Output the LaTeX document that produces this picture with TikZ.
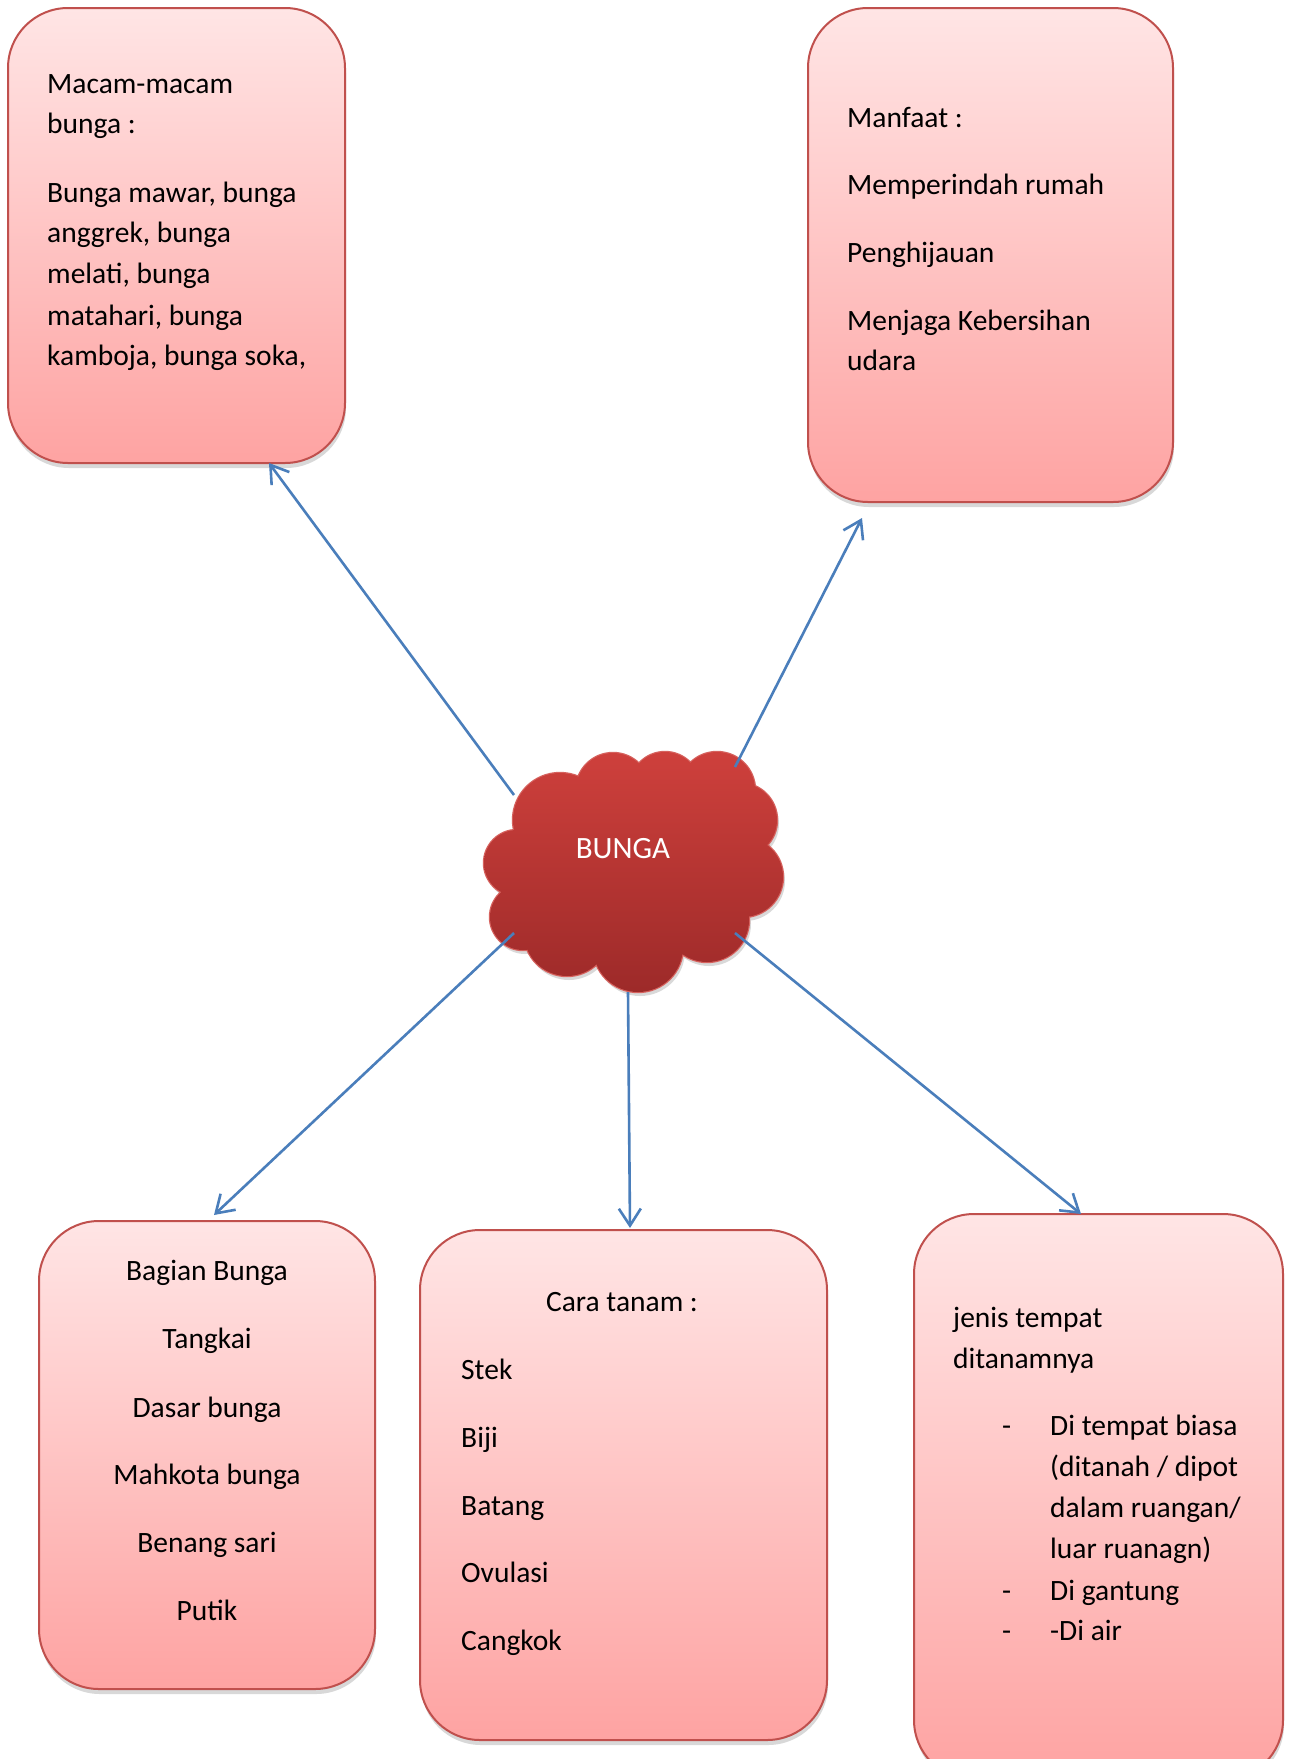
\documentclass[tikz,border=0pt]{standalone}
\usepackage{fontspec}
\setmainfont{Carlito}
\usetikzlibrary{arrows.meta,shadows}
\definecolor{boxtop}{RGB}{255,229,229}
\definecolor{boxbot}{RGB}{254,163,162}
\definecolor{boxline}{RGB}{192,80,77}
\definecolor{cloudtop}{RGB}{206,64,60}
\definecolor{cloudbot}{RGB}{157,42,41}
\definecolor{cloudline}{RGB}{214,98,94}
\definecolor{arrowblue}{RGB}{74,126,187}
\begin{document}
\begin{tikzpicture}[x=1pt,y=-1pt,
  box/.style={draw=boxline, line width=2pt, rounded corners=60pt,
    top color=boxtop, bottom color=boxbot, inner sep=0pt, outer sep=0pt,
    drop shadow={opacity=0.25, shadow xshift=1pt, shadow yshift=-5pt, fill=black!60}},
  txt/.style={font=\fontsize{29.5pt}{34pt}\selectfont, inner sep=0pt, anchor=base west},
  ctxt/.style={txt, anchor=base},
  conn/.style={draw=arrowblue, line width=2.6pt, -{Straight Barb[length=17pt,width=22pt]}}]
\useasboundingbox (0,0) rectangle (1290,1759);
\clip (0,0) rectangle (1290,1759);
\fill[white] (0,0) rectangle (1290,1759);

% boxes
\node[box, minimum width=337pt, minimum height=455pt] (tl) at (176.5,235.5) {};
\node[box, minimum width=365pt, minimum height=494pt] (tr) at (990.5,255) {};
\node[box, minimum width=336pt, minimum height=468pt] (bl) at (207,1455) {};
\node[box, minimum width=407pt, minimum height=510pt] (bm) at (623.5,1485) {};
\node[box, minimum width=369pt, minimum height=566pt] (br) at (1098.5,1497) {};

% cloud
\fill[black, opacity=0.15]
  \foreach \x/\y/\r in {560/820/47,613/790/37,665/787/35,717/790/38,740/820/37,743/877/40,707/920/42,638/947/45,567/933/43,523/917/33,517/863/33,600/870/75,690/860/70}
  {(\x+2,\y+4) circle (\r pt)};
\draw[cloudline, line width=2.4pt]
  \foreach \x/\y/\r in {560/820/47,613/790/37,665/787/35,717/790/38,740/820/37,743/877/40,707/920/42,638/947/45,567/933/43,523/917/33,517/863/33}
  {(\x,\y) circle (\r pt)};
\shade[top color=cloudtop, bottom color=cloudbot]
  \foreach \x/\y/\r in {560/820/47,613/790/37,665/787/35,717/790/38,740/820/37,743/877/40,707/920/42,638/947/45,567/933/43,523/917/33,517/863/33,600/870/75,690/860/70}
  {(\x,\y) circle (\r pt)};
\node[font=\fontsize{31pt}{36pt}\selectfont, text=white, inner sep=0pt] (cloud) at (623,849) {BUNGA};

% connectors
\draw[conn] ([xshift=-109pt,yshift=54pt]cloud.center) -- ([xshift=92.5pt]tl.south);
\draw[conn] ([xshift=112pt,yshift=82pt]cloud.center) -- ([xshift=-128.5pt,yshift=-16pt]tr.south);
\draw[conn] ([xshift=-109pt,yshift=-84pt]cloud.center) -- ([xshift=7pt,yshift=6pt]bl.north);
\draw[conn] ([xshift=5pt,yshift=-143pt]cloud.center) -- ([xshift=6.5pt,yshift=2pt]bm.north);
\draw[conn] ([xshift=112pt,yshift=-84pt]cloud.center) -- ([xshift=-17.5pt]br.north);

% texts top-left
\node[txt] (tl1) at (47,93) {Macam-macam};
\node[txt] (tl2) at (47,133) {bunga :};
\node[txt] (tl3) at (47,202) {Bunga mawar, bunga};
\node[txt] (tl4) at (47,242) {anggrek, bunga};
\node[txt] (tl5) at (47,283) {melati, bunga};
\node[txt] (tl6) at (47,325) {matahari, bunga};
\node[txt] (tl7) at (47,365) {kamboja, bunga soka,};

% texts top-right
\node[txt] (tr1) at (847,127) {Manfaat :};
\node[txt] (tr2) at (847,194) {Memperindah rumah};
\node[txt] (tr3) at (847,262) {Penghijauan};
\node[txt] (tr4) at (847,330) {Menjaga Kebersihan};
\node[txt] (tr5) at (847,370) {udara};

% texts bottom-left
\node[ctxt] (bl1) at (207,1280) {Bagian Bunga};
\node[ctxt] (bl2) at (207,1348) {Tangkai};
\node[ctxt] (bl3) at (207,1417) {Dasar bunga};
\node[ctxt] (bl4) at (207,1484) {Mahkota bunga};
\node[ctxt] (bl5) at (207,1552) {Benang sari};
\node[ctxt] (bl6) at (207,1620) {Putik};

% texts bottom-middle
\node[ctxt] (bm1) at (622,1311) {Cara tanam :};
\node[txt] (bm2) at (461,1379) {Stek};
\node[txt] (bm3) at (461,1447) {Biji};
\node[txt] (bm4) at (461,1515) {Batang};
\node[txt] (bm5) at (461,1582) {Ovulasi};
\node[txt] (bm6) at (461,1650) {Cangkok};

% texts bottom-right
\node[txt] (br1) at (953,1327) {jenis tempat};
\node[txt] (br2) at (953,1368) {ditanamnya};
\node[txt] (brd1) at (1002,1435) {-};
\node[txt] (br3) at (1050,1435) {Di tempat biasa};
\node[txt] (br4) at (1050,1476) {(ditanah / dipot};
\node[txt] (br5) at (1050,1517) {dalam ruangan/};
\node[txt] (br6) at (1050,1558) {luar ruanagn)};
\node[txt] (brd2) at (1002,1600) {-};
\node[txt] (br7) at (1050,1600) {Di gantung};
\node[txt] (brd3) at (1002,1640) {-};
\node[txt] (br8) at (1050,1640) {-Di air};
\end{tikzpicture}
\end{document}
